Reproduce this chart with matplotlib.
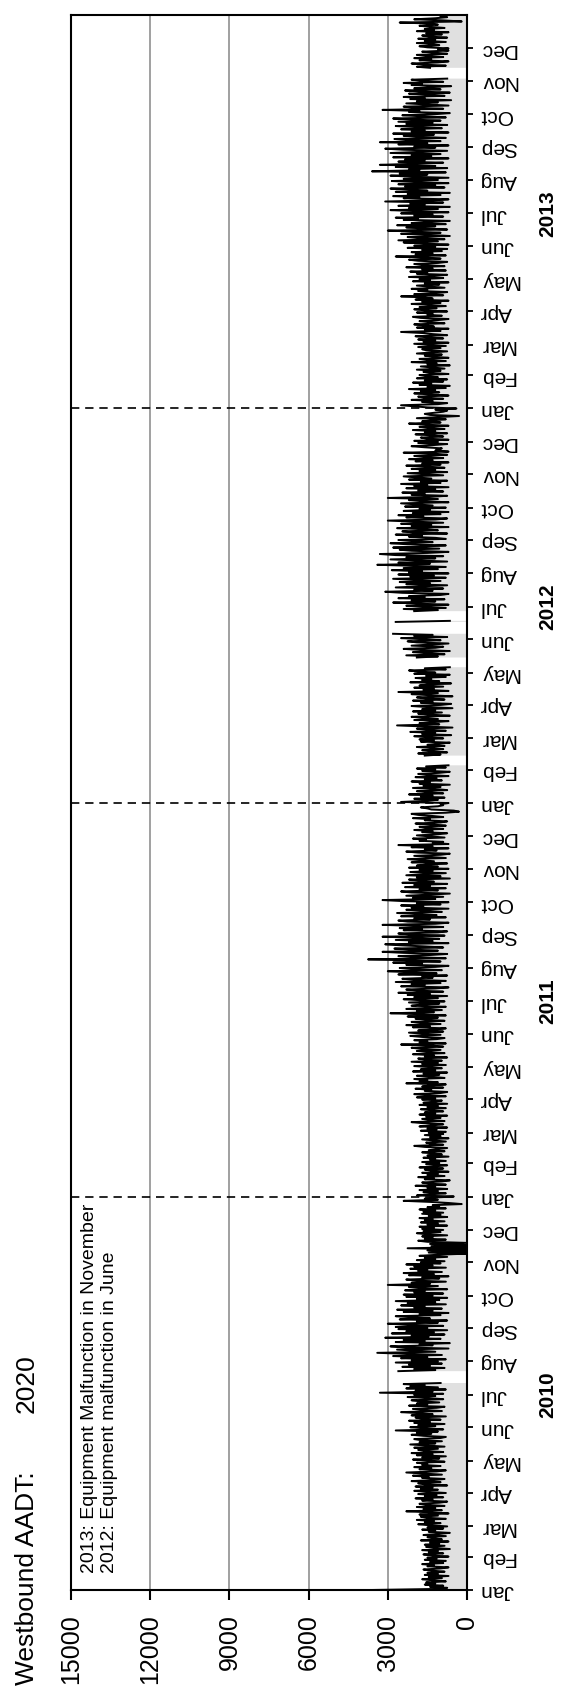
import numpy as np
import pandas as pd
import matplotlib
matplotlib.use("Agg")
import matplotlib.pyplot as plt

N = None
UNIT = 100  # values below are daily volumes in hundreds of vehicles

# ---- 2010, one row per month ----
vol2010 = [
    36.5, 11, 7.5, 14, 9, 16, 12, 15.5, 8, 13, 17, 9.5, 14.5, 7, 16, 11, 15, 8.5, 13.5, 16.5, 10, 7, 15, 12.5, 17, 9, 14, 8, 16, 11.5, 15,
    7, 13, 16.5, 9, 14.5, 11, 17, 6.5, 12, 15.5, 8.5, 16, 10.5, 14, 7, 17.5, 9.5, 13, 15, 8, 16.5, 11, 6.5, 14.5, 12, 17, 9, 15,
    7.5, 14, 18.5, 10, 16, 12.5, 19, 8, 15, 17.5, 11, 18, 7, 13.5, 23, 9.5, 16.5, 12, 19, 8.5, 15.5, 18, 10.5, 7.5, 17, 13, 19.5, 9, 16, 11.5, 18.5,
    8, 15, 20, 11, 17.5, 13, 19.5, 7.5, 16, 18.5, 10, 21, 12.5, 8.5, 17, 14.5, 20.5, 9.5, 16.5, 23, 11.5, 8, 18, 13.5, 20, 10, 17, 15, 19, 8.5,
    14, 20.5, 10.5, 17, 8, 19, 13, 21, 9, 16, 18.5, 11, 20, 8.5, 15, 21.5, 12, 18, 9.5, 17.5, 20, 10, 8, 16.5, 21, 13.5, 19, 11, 27, 9, 16,
    21.5, 12, 18.5, 8.5, 20, 14, 22, 10, 17, 19.5, 8, 21, 13, 18, 25, 9.5, 16.5, 20.5, 11.5, 8.5, 22, 15, 19, 10.5, 17.5, 21, 9, 14.5, 22.5, 12,
    20, 9, 33, 13, 19.5, 8, 23, 11, 21.5, 16, 24, 10, N, N, N, N, N, N, N, N, N, N, 26, 12, 20, 8.5, 24.5, 14, 22, 9.5, 27,
    11, 21, 8, 25, 15, 28, 9.5, 22, 34, 12, 19, 26.5, 7, 23.5, 29, 13, 18, 6.5, 27, 16, 24, 10, 31, 14.5, 21, 8.5, 28.5, 12.5, 23, 7.5, 26,
    15, 27, 9, 22, 30, 11, 19, 7.5, 25.5, 14, 21, 27, 10, 18, 7, 24, 13, 26.5, 9.5, 20, 16, 25, 8, 22.5, 12, 27, 10.5, 19, 7.5, 23,
    13, 24, 9, 20, 16, 23.5, 7.5, 18, 22, 11, 30, 14, 21, 8, 19.5, 23, 10.5, 17, 7, 22, 12.5, 24, 9.5, 18.5, 15, 21.5, 8, 20, 13, 23, 10,
    17.5, 8.5, 19, 12, 16, 7.5, 18, 11, 0, 14.5, 0, 15, 0, 22.5, 0, 13.5, 0, 14, 0, 15, 18.5, 8, 16, 13, 17, 7.5, 15.5, 19, 10, 16.5,
    9, 17, 12.5, 18, 7.5, 15, 11, 17.5, 8.5, 16, 13, 18, 7.5, 14.5, 10, 17, 9, 16.5, 12, 18, 8, 15, 10.5, 13, 2, 7, 14, 24, 11, 16, 13,
]

# ---- 2011 ----
vol2011 = [
    5, 19, 14, 8, 16.5, 11, 18, 7.5, 15, 12, 19.5, 8, 14, 17, 9.5, 6.5, 16, 12.5, 18.5, 8.5, 15, 11, 17, 7, 13.5, 16, 9, 18, 12, 7.5, 15.5,
    10.5, 17, 8, 14, 12, 16.5, 7, 15, 9.5, 13, 17, 8.5, 14.5, 11, 7.5, 16, 20, 9, 13.5, 15.5, 8, 12.5, 17, 7, 14, 10, 16, 9,
    14.5, 8, 17.5, 11.5, 15, 7.5, 18, 13, 9, 16.5, 21, 8.5, 14, 17, 10, 15.5, 7.5, 18, 12, 16, 9, 13.5, 17.5, 8, 15, 11, 18, 7.5, 16.5, 12.5, 9.5,
    17, 12, 19, 8, 15.5, 20, 10, 7.5, 16, 13.5, 19.5, 9, 17, 14, 8, 23, 11, 18, 15, 20, 8.5, 13, 19, 10.5, 16.5, 7.5, 20.5, 12, 17.5, 9.5,
    14, 20, 8, 17, 11, 21, 9.5, 15.5, 18.5, 7.5, 16, 12.5, 20.5, 8.5, 14.5, 19, 10, 17.5, 21, 9, 13, 25, 8, 18, 15, 20, 11.5, 8.5, 17, 21.5, 10,
    16, 22, 9, 18.5, 12, 8, 20.5, 14, 23, 10, 17, 21, 8.5, 15, 19.5, 11, 22.5, 8, 16.5, 29, 12.5, 19, 9.5, 23, 14.5, 8, 21, 17.5, 10.5, 22,
    8.5, 17, 24, 11, 20, 7.5, 22.5, 14, 26, 9, 18, 23, 12, 7, 25, 16, 21, 10, 27, 8, 19.5, 24.5, 13, 17, 7.5, 26, 11.5, 22, 30, 9.5, 20,
    25.5, 12, 7, 23, 17, 28, 10, 21.5, 37.5, 8, 19, 26, 14, 7.5, 24, 32, 11, 20, 27.5, 9, 16, 25, 31, 7, 22, 13, 27, 10.5, 18, 32, 8.5,
    21, 26, 11, 7.5, 24, 17, 25.5, 9, 19, 32, 12, 7, 22.5, 26, 14, 20, 8, 25, 11.5, 18.5, 26.5, 9.5, 15, 23, 7, 21, 16.5, 25, 10, 19,
    7, 24, 32, 12, 20.5, 9, 23, 15, 6.5, 21, 25, 11, 18, 8, 23.5, 14, 20, 7.5, 24.5, 12.5, 17, 22, 6.5, 19, 10, 23, 15.5, 8, 21.5, 13, 18,
    7, 22, 11, 19, 15, 7.5, 21, 12.5, 17.5, 22.5, 8, 14, 20, 10, 6.5, 18.5, 23, 11.5, 16, 7, 21, 13, 26, 7, 13, 9, 18, 15.5, 20.5, 8.5,
    14, 19, 11, 7.5, 17, 13, 20, 9, 15.5, 18, 8, 12.5, 19.5, 10, 7.5, 16, 14, 20.5, 9, 13, 18.5, 21, 8, 3, 5, 13.5, 15, 17.5, 11, 9, 10,
]

# ---- 2012 (leap year) ----
vol2012 = [
    7, 25, 16, 11, 20, 8.5, 17.5, 13, 22, 9, 15, 19, 7.5, 12, 20.5, 10, 16.5, 6.5, 18, 14, 21, 9.5, 16, 11.5, 19.5, 7, 15, 18.5, 10.5, 6.5, 17,
    12, 19, 8, 15.5, 7, N, N, N, N, N, N, N, N, 16, 10, 18.5, 7.5, 14, 17, 9, 13, 19, 8.5, 15, 11, 6.5, 17.5, 12.5, 18,
    9, 15, 20, 6, 17, 12, 21.5, 8, 14.5, 19, 5.5, 16, 26.5, 10.5, 18, 13, 7, 20, 11, 16.5, 21, 6.5, 14, 18.5, 9.5, 20.5, 12, 17, 5.5, 15, 21,
    10, 6, 17.5, 13, 20.5, 8.5, 15, 19, 5.5, 14, 21, 11, 26, 7, 16.5, 12.5, 20, 9, 18, 14.5, 6, 21.5, 10.5, 17, 13.5, 19.5, 8, 15.5, 6.5, 20,
    12, 18, 22, 8, 16, 6.5, N, N, N, N, N, N, N, N, 19, 11, 23, 8.5, 15, 20.5, 6.5, 17.5, 24, 12, 9, 21, 14, 7, 19, 22.5, 10,
    17, 25, 7.5, 20, 13, 28, N, N, N, N, N, N, N, N, N, N, 27, 6.5, N, N, N, N, N, N, N, N, 20, 11, 24, 8,
    15, 23, 7, 19, 28, 12, 21, 8.5, 26, 16, 22, 10, 7, 24.5, 31, 13, 20, 9, 27, 17, 7.5, 23, 14, 25.5, 10, 19, 28, 8, 21.5, 12.5, 26,
    7, 22, 17, 28.5, 11, 24, 8, 20, 34, 14, 26, 7.5, 18.5, 29, 12, 23, 9, 27, 33, 15, 7, 21, 25.5, 10.5, 28, 16, 8, 22.5, 29, 13, 19,
    26, 8, 12, 22, 17, 27, 7.5, 20, 24.5, 11, 16, 26.5, 7, 21, 13.5, 25, 9, 19, 30, 12, 7.5, 23, 16.5, 26, 10, 20.5, 7, 24, 14, 18,
    8, 23.5, 13, 19, 25, 7, 17, 22, 11, 30, 14, 7.5, 21, 16, 24.5, 9, 18.5, 12, 23, 7, 20, 15, 25, 10, 17.5, 7.5, 22, 13.5, 19, 24, 9,
    16, 22.5, 7.5, 18, 12, 21, 8.5, 14.5, 23, 10, 17, 7, 19.5, 13, 22, 9, 15.5, 20, 7.5, 12, 24, 7, 12, 11, 9.5, 16, 21, 13, 7.5, 18.5,
    11, 20, 7, 15, 17.5, 9, 13, 19.5, 7.5, 16, 12, 20.5, 8.5, 14, 18, 7, 15.5, 22, 10, 17, 13, 8, 19, 11, 3, 14, 16, 12.5, 9, 7.5, 12,
]

# ---- 2013 ----
vol2013 = [
    4, 15, 20, 25, 11, 7.5, 17, 13, 21, 9, 16, 18.5, 7, 14, 20, 10.5, 17.5, 12, 22, 8, 15, 6.5, 18, 13.5, 20.5, 9, 16, 7.5, 19, 11, 15.5,
    18, 7, 14, 16.5, 10, 19, 8.5, 13, 17.5, 6.5, 15, 11.5, 21, 8, 14.5, 18, 7, 12.5, 16, 9.5, 19, 13, 7.5, 15.5, 17, 10, 18.5, 8,
    14, 20, 7, 16.5, 12, 18.5, 9, 15, 19.5, 7.5, 13, 17, 25, 10, 16, 7, 19, 12.5, 15.5, 20, 8.5, 14, 18, 11, 7, 17.5, 20.5, 9.5, 15, 13, 19,
    7.5, 16, 20, 11.5, 18, 8, 14, 21, 10, 17, 7, 19.5, 13, 16.5, 25, 9, 20, 12, 7.5, 18.5, 15, 21, 8.5, 13.5, 19, 10.5, 16, 7, 20.5, 14,
    18, 9, 22, 12.5, 7.5, 19, 15, 21.5, 8, 17, 13, 23, 8.5, 16.5, 20, 11, 7.5, 18.5, 22, 10, 15.5, 27, 8, 19.5, 13, 21, 9.5, 17, 7.5, 22.5, 12,
    20, 7, 16, 24, 11, 26, 8.5, 18, 22.5, 6.5, 14, 25, 10, 19.5, 30, 7.5, 17, 23, 12, 26.5, 8, 21, 15, 6.5, 24, 18.5, 27, 9, 20, 13,
    25, 7, 19, 29, 11, 22, 6.5, 26, 16, 21.5, 9, 31, 13, 7, 24, 18, 28, 10, 22.5, 6.5, 27, 15, 20, 29, 8.5, 23.5, 12, 26, 7, 19, 28.5,
    11, 24, 7, 21, 29, 15, 25.5, 8, 36, 18, 22, 7.5, 27, 12, 33, 20, 9, 26, 16, 23.5, 7, 28, 13.5, 21, 10, 29, 18.5, 7.5, 24, 31, 12,
    20, 7, 26, 15, 33, 10, 22, 27.5, 8, 18, 24, 12.5, 28, 7, 21, 16, 25, 9.5, 19, 27, 7.5, 23, 13, 26, 10, 20.5, 28, 8, 17, 24.5,
    12, 6.5, 22, 18, 32, 9, 20, 24, 7, 15, 23, 11, 19, 6, 21.5, 16, 24, 8.5, 13, 22, 6.5, 18, 23.5, 10, 20, 14, 6, 21, 17, 24, 9,
    17, 21, 7.5, N, N, N, N, N, N, N, N, N, 14, 19, 8, 16.5, 21, 11, 7, 18, 13.5, 20, 9, 15, 19, 7.5, 12, 17, 7, 11,
    7, 15, 18, 10.5, 13, 19, 8, 16, 12, 18.5, 7.5, 14, 17, 9.5, 15.5, 7, 19, 12.5, 16, 8.5, 14, 18, 11, 13, 25.5, 2, 9, 20, 12, 7.5, 10,
]

years = ["2010", "2011", "2012", "2013"]
month_names = ["Jan", "Feb", "Mar", "Apr", "May", "Jun",
               "Jul", "Aug", "Sep", "Oct", "Nov", "Dec"]
value_ticks = [0, 3000, 6000, 9000, 12000, 15000]
title_text = "Westbound AADT:"
aadt_text = "2020"
notes = ["2013: Equipment Malfunction in November",
         "2012: Equipment malfunction in June"]

plt.rcParams["font.family"] = ["Liberation Sans", "DejaVu Sans"]

vals = np.array(vol2010 + vol2011 + vol2012 + vol2013, dtype=float) * UNIT
dates = pd.date_range("2010-01-01", periods=len(vals), freq="D")

W, H = 564, 1690
fig = plt.figure(figsize=(W / 100, H / 100), dpi=100)
ax = fig.add_axes([71 / W, 99 / H, 396 / W, 1575 / H])

ax.fill_betweenx(dates, 0, vals, color="#e0e0e0", lw=0, zorder=2)
ax.plot(vals, dates, color="black", lw=1.4, zorder=3)

for yr in years[1:]:
    ax.axhline(pd.Timestamp(f"{yr}-01-01"), color="black", lw=1.2,
               ls=(0, (5, 3.5)), zorder=1.5)

ax.set_xlim(15000, 0)
ax.set_ylim(pd.Timestamp("2010-01-01"), pd.Timestamp("2014-01-01"))

ax.set_xticks(value_ticks)
ax.set_xticklabels([str(v) for v in value_ticks], rotation=90, fontsize=18)
ax.tick_params(axis="x", direction="out", length=7, width=1.5, pad=10)
ax.grid(axis="x", color="#a0a0a0", lw=1.4, zorder=1)
ax.set_axisbelow(True)

month_pos = pd.date_range("2010-01-01", "2013-12-01", freq="MS")
ax.yaxis.tick_right()
ax.set_yticks(month_pos)
ax.set_yticklabels(month_names * len(years), rotation=180, fontsize=15,
                   va="center", ha="left")
ax.tick_params(axis="y", direction="out", length=4, width=1.3, pad=5)

for s in ax.spines.values():
    s.set_linewidth(1.5)
    s.set_color("black")

ytr = ax.get_yaxis_transform()
for yr in years:
    ax.text(1.205, pd.Timestamp(f"{yr}-07-02"), yr, transform=ytr,
            rotation=90, ha="center", va="center", fontsize=15,
            fontweight="bold")

fig.text(27 / W, 5 / H, title_text, rotation=90, ha="center", va="bottom",
         fontsize=19)
fig.text(27 / W, (H - 1413) / H, aadt_text, rotation=90, ha="center",
         va="bottom", fontsize=19)

fig.text(81 / W, (H - 1573) / H, "\n".join(notes), rotation=90,
         ha="left", va="bottom", fontsize=14, linespacing=1.2,
         multialignment="left",
         bbox=dict(facecolor="white", edgecolor="none", pad=3))

fig.savefig("out.png", dpi=100)
